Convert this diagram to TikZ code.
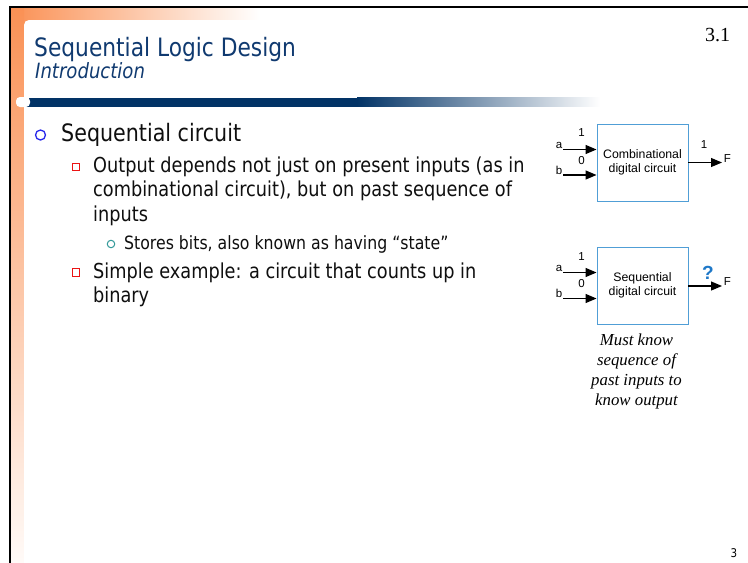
\documentclass[tikz,border=0pt]{standalone}
\usepackage{fontspec}
\setmainfont{Liberation Serif}
\newfontfamily\slidefont{DejaVu Sans}[FakeStretch=0.86]
\newfontfamily\figfont{Liberation Sans}
\usetikzlibrary{arrows.meta,positioning}

\definecolor{titleblue}{RGB}{16,58,112}
\definecolor{barblue}{RGB}{2,51,102}
\definecolor{slideorange}{RGB}{250,145,85}
\definecolor{bulletblue}{RGB}{40,40,235}
\definecolor{bulletred}{RGB}{235,20,20}
\definecolor{bulletteal}{RGB}{51,153,153}
\definecolor{boxblue}{RGB}{80,158,214}
\definecolor{askblue}{RGB}{30,120,200}
\definecolor{bodytext}{RGB}{15,15,15}

\begin{document}
\begin{tikzpicture}[x=1pt, y=-1pt,
	lvlone/.style  = {anchor=base west, inner sep=0pt, text=bodytext, font=\slidefont\fontsize{24}{28}\selectfont},
	lvltwo/.style  = {anchor=base west, inner sep=0pt, text=bodytext, font=\slidefont\fontsize{20.6}{24}\selectfont},
	lvlthree/.style= {anchor=base west, inner sep=0pt, text=bodytext, font=\slidefont\fontsize{18.3}{22}\selectfont},
	blk/.style     = {draw=boxblue, line width=0.9pt, minimum width=91pt, minimum height=77pt, align=center, inner sep=0pt,
	                  font=\figfont\fontsize{12.3}{14}\selectfont},
	sig/.style     = {line width=1.2pt, -{Triangle[length=11pt, width=9pt]}},
	lbl/.style     = {inner sep=0.5pt, font=\figfont\fontsize{11.5}{12}\selectfont}]

	\useasboundingbox (0,0) rectangle (748,563);

	% slide background
	\shade[left color=slideorange, right color=white] (11,8) rectangle (260,24);
	\shade[top color=slideorange, bottom color=slideorange!4] (11,8) rectangle (24,563);
	\fill[white, rounded corners=5pt] (24,20) rectangle (770,590);
	\fill[barblue] (24,98) rectangle (357,107);
	\shade[left color=barblue, right color=white] (357,97.5) rectangle (600,106.5);
	\fill[white, rounded corners=4pt] (16,97) rectangle (30,107);
	\draw[line width=2.2pt] (10,563) -- (10,7) -- (748,7);

	% title
	\node[anchor=base west, inner sep=0pt, text=titleblue, font=\slidefont\fontsize{25.3}{30}\selectfont] (title) at (34,56) {Sequential Logic Design};
	\node[anchor=base west, inner sep=0pt, text=titleblue, font=\slidefont\itshape\fontsize{21}{24}\selectfont] (subtitle) at (35,78) {Introduction};
	\node[anchor=base west, inner sep=0pt, font=\fontsize{20}{24}\selectfont] (slideno) at (705,41) {3.1};

	% bullets
	\node[circle, draw=bulletblue, line width=1.3pt, minimum size=10pt, inner sep=0pt] (bone) at (40.5,135) {};
	\node[lvlone] (seqtitle) at (61,141.5) {Sequential circuit};

	\node[draw=bulletred, line width=1.1pt, minimum size=7.5pt, inner sep=0pt] (btwoa) at (76,167) {};
	\node[lvltwo] (outa) at (93,172) {Output depends not just on present inputs (as in};
	\node[lvltwo] (outb) at (93,196.5) {combinational circuit), but on past sequence of};
	\node[lvltwo] (outc) at (93,221) {inputs};

	\node[circle, draw=bulletteal, line width=1pt, minimum size=7.5pt, inner sep=0pt] (bthree) at (111,244) {};
	\node[lvlthree] (stores) at (124,249) {Stores bits, also known as having “state”};

	\node[draw=bulletred, line width=1.1pt, minimum size=7.5pt, inner sep=0pt] (btwob) at (76,272.5) {};
	\node[lvltwo] (simpa) at (93,278) {Simple example: a circuit that counts up in};
	\node[lvltwo] (simpb) at (93,302.5) {binary};

	% combinational block
	\node[blk] (comb) at (642.5,162.5) {Combinational\\digital circuit};
	\coordinate (ca) at (563,149.5);
	\coordinate (cb) at (563,175);
	\coordinate (cf) at (722,162.5);
	\draw[sig] (ca) -- (ca -| comb.west);
	\draw[sig] (cb) -- (cb -| comb.west);
	\draw[sig] (comb.east |- cf) -- (cf);
	\node[lbl, anchor=south east] (cal) at (ca) {a};
	\node[lbl, anchor=south east] (cbl) at (cb) {b};
	\node[lbl] (cav) at (581.5,133) {1};
	\node[lbl] (cbv) at (581.5,161) {0};
	\node[lbl] (cfv) at (704,145) {1};
	\node[lbl] (cfl) at (727.5,159) {F};

	% sequential block
	\node[blk] (seq) at (642.5,285.5) {Sequential\\digital circuit};
	\coordinate (sa) at (563,272.5);
	\coordinate (sb) at (563,298.5);
	\coordinate (sf) at (722,286);
	\draw[sig] (sa) -- (sa -| seq.west);
	\draw[sig] (sb) -- (sb -| seq.west);
	\draw[sig] (seq.east |- sf) -- (sf);
	\node[lbl, anchor=south east] (sal) at (sa) {a};
	\node[lbl, anchor=south east] (sbl) at (sb) {b};
	\node[lbl] (sav) at (581.5,256.5) {1};
	\node[lbl] (sbv) at (581.5,284) {0};
	\node[inner sep=0pt, text=askblue, font=\figfont\bfseries\fontsize{19}{20}\selectfont] (sfv) at (708,273) {?};
	\node[lbl] (sfl) at (727.5,282) {F};

	\node[below=9pt of seq, xshift=-6pt, inner sep=0pt, align=center, font=\itshape\fontsize{16.8}{20}\selectfont] (note)
		{Must know\\sequence of\\past inputs to\\know output};

	\node[font=\slidefont\fontsize{12}{14}\selectfont] (pageno) at (734,553) {3};
\end{tikzpicture}
\end{document}
